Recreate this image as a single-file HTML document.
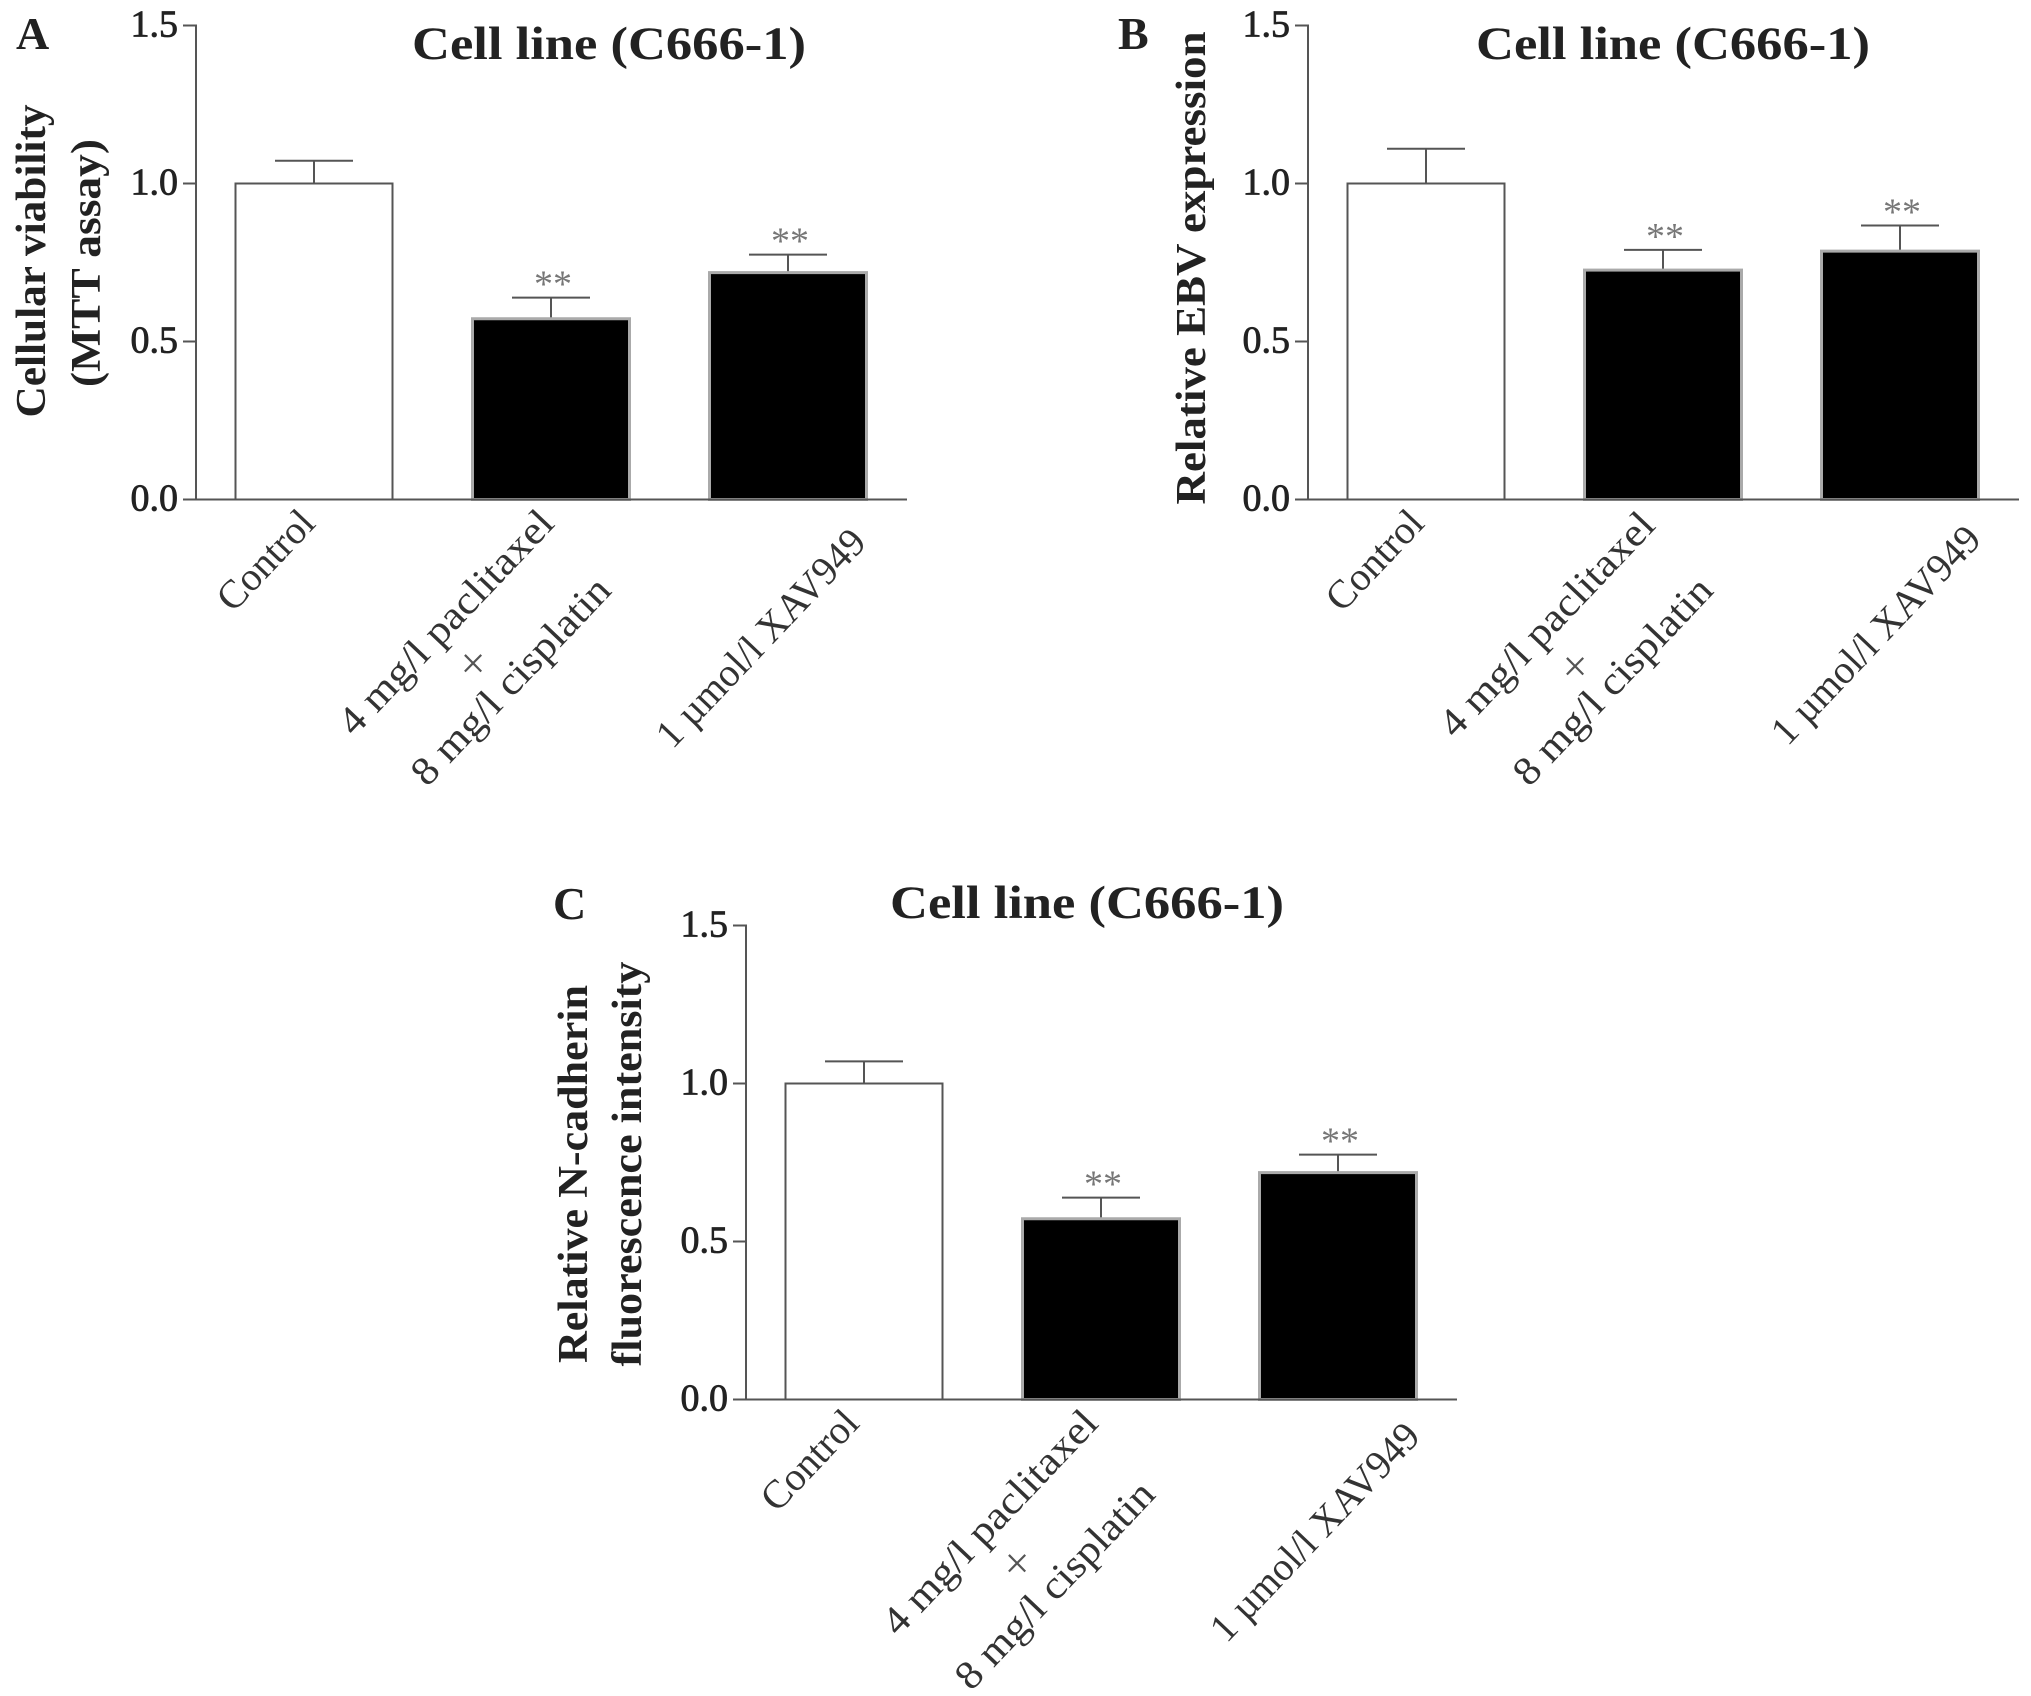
<!DOCTYPE html>
<html lang="en">
<head>
<meta charset="utf-8">
<title>Cell line (C666-1) bar charts</title>
<style>
  html, body { margin: 0; padding: 0; background: #fff; }
  svg { display: block; }
  text { font-family: "Liberation Serif", serif; fill: #222; }
  .title { font-size: 47px; font-weight: bold; text-anchor: middle; }
  .letter { font-size: 46px; font-weight: bold; }
  .ytitle { font-size: 42px; font-weight: bold; text-anchor: middle; }
  .tick { font-size: 38px; text-anchor: end; stroke: #222; stroke-width: .8px; }
  .cat { font-size: 40px; text-anchor: end; fill: #333; }
  .join { font-size: 44px; text-anchor: middle; fill: #555; }
  .star { font-size: 38px; text-anchor: middle; fill: #777; }
</style>
</head>
<body>
<svg id="figure" xmlns="http://www.w3.org/2000/svg" width="2031" height="1696" viewBox="0 0 2031 1696">
  <rect width="2031" height="1696" fill="#fff"/>

  <text class="letter" x="16" y="49">A</text>
  <text class="title" x="609" y="59" textLength="394" lengthAdjust="spacingAndGlyphs">Cell line (C666-1)</text>
  <text class="ytitle" transform="translate(45,261) rotate(-90)" textLength="313" lengthAdjust="spacingAndGlyphs">Cellular viability</text>
  <text class="ytitle" transform="translate(100,263) rotate(-90)" textLength="248" lengthAdjust="spacingAndGlyphs">(MTT assay)</text>

  <text class="letter" x="1118" y="49">B</text>
  <text class="title" x="1673" y="59" textLength="394" lengthAdjust="spacingAndGlyphs">Cell line (C666-1)</text>
  <text class="ytitle" transform="translate(1205,268) rotate(-90)" textLength="473" lengthAdjust="spacingAndGlyphs">Relative EBV expression</text>

  <text class="letter" x="553" y="919">C</text>
  <text class="title" x="1087" y="918" textLength="394" lengthAdjust="spacingAndGlyphs">Cell line (C666-1)</text>
  <text class="ytitle" transform="translate(587,1174) rotate(-90)" textLength="378" lengthAdjust="spacingAndGlyphs">Relative N-cadherin</text>
  <text class="ytitle" transform="translate(641,1164) rotate(-90)" textLength="405" lengthAdjust="spacingAndGlyphs">fluorescence intensity</text>
</svg>
<script>
// Chart data
const categories = ["Control", "4 mg/l  paclitaxel", "1 µmol/l XAV949"];
const secondLine = "8 mg/l cisplatin";
const joiner = "×";
const yTicks = [0, 0.5, 1.0, 1.5];
const tickLabels = ["0.0", "0.5", "1.0", "1.5"];
const valuesA = [1.0, 0.572, 0.718];
const errorTopsA = [1.072, 0.639, 0.775];
const valuesB = [1.0, 0.726, 0.786];
const errorTopsB = [1.11, 0.79, 0.867];
const valuesC = [1.0, 0.572, 0.718];
const errorTopsC = [1.07, 0.639, 0.775];
const significance = ["", "**", "**"];

const yMax = 1.5;
const svg = document.getElementById('figure');
const NS = 'http://www.w3.org/2000/svg';

function make(tag, attrs, parent) {
  const node = document.createElementNS(NS, tag);
  for (const k in attrs) node.setAttribute(k, attrs[k]);
  parent.appendChild(node);
  return node;
}

function drawPanel(id, left, bottom, values, errorTops, anchors) {
  const height = 474, width = 711, step = 237, firstCenter = 118, barW = 157, capW = 78;
  const y = v => bottom - (v / yMax) * height;
  const x = i => left + firstCenter + step * i;

  const g = make('g', {}, svg);
  
  

  values.forEach((v, i) => {
    const top = errorTops[i];
    const stem = make('line', { x1: x(i), x2: x(i), y1: y(v), y2: y(top), stroke: '#555', 'stroke-width': 2 }, g);
    
    
    const cap = make('line', { x1: x(i) - capW / 2, x2: x(i) + capW / 2, y1: y(top), y2: y(top), stroke: '#555', 'stroke-width': 2 }, g);
    
    

    const filled = i > 0;
    const bar = make('rect', {
      x: x(i) - barW / 2, y: y(v), width: barW, height: bottom - y(v),
      fill: filled ? '#000' : '#fff',
      stroke: filled ? '#aaa' : '#555',
      'stroke-width': filled ? 3 : 2
    }, g);
    
    

    if (significance[i]) {
      const star = make('text', { class: 'star', x: x(i) + 2, y: y(top) - 1 }, g);
      star.textContent = significance[i];
      
      
    }
  });

  const yAxis = make('line', { x1: left, x2: left, y1: y(yMax) - 1, y2: bottom + 1, stroke: '#555', 'stroke-width': 2 }, g);
  
  
  const xAxis = make('line', { x1: left, x2: left + width, y1: bottom, y2: bottom, stroke: '#555', 'stroke-width': 2 }, g);
  
  

  yTicks.forEach((t, i) => {
    const mark = make('line', { x1: left - 13, x2: left, y1: y(t), y2: y(t), stroke: '#555', 'stroke-width': 2 }, g);
    
    
    const label = make('text', { class: 'tick', x: left - 18, y: y(t) + 11 }, g);
    label.textContent = tickLabels[i];
    
    
  });

  const lengths = [122, 293, 284];
  categories.forEach((c, i) => {
    const a = anchors.cats[i];
    const label = make('text', { class: 'cat', transform: 'translate(' + a[0] + ',' + (a[1] + 3) + ') rotate(-46.5)', textLength: lengths[i], lengthAdjust: 'spacingAndGlyphs' }, g);
    label.textContent = c;
    
    
  });

  const plus = make('text', { class: 'join', x: anchors.plus[0], y: anchors.plus[1] }, g);
  plus.textContent = joiner;
  
  

  const second = make('text', {
    class: 'cat', transform: 'translate(' + anchors.second[0] + ',' + (anchors.second[1] + 3) + ') rotate(-46.5)', textLength: 270, lengthAdjust: 'spacingAndGlyphs'
  }, g);
  second.textContent = secondLine;
  
  
}

drawPanel('a', 196, 499.5, valuesA, errorTopsA, {
  cats: [[317, 522], [556, 522], [868, 541]], second: [613, 589], plus: [473, 678]
});
drawPanel('b', 1308, 499.5, valuesB, errorTopsB, {
  cats: [[1426, 522], [1657, 524], [1983, 538]], second: [1715, 589], plus: [1575, 681]
});
drawPanel('c', 746, 1399.5, valuesC, errorTopsC, {
  cats: [[861, 1422], [1100, 1422], [1422, 1435]], second: [1157, 1493], plus: [1017, 1578]
});
</script>
</body>
</html>
